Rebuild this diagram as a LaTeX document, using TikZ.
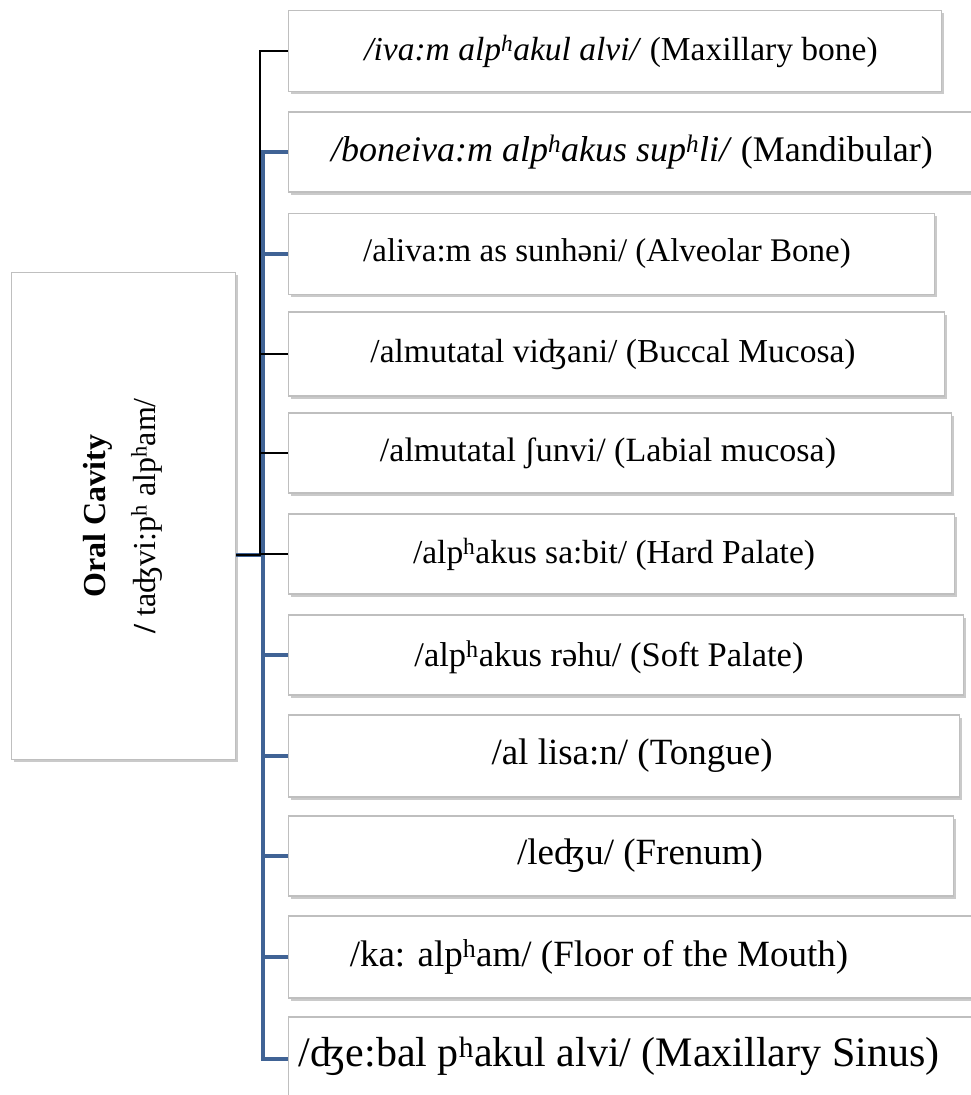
\documentclass[tikz,border=0pt]{standalone}
\usepackage{fontspec}
\setmainfont{Liberation Serif}
\usepackage{tikz}
\usetikzlibrary{shadows}
\definecolor{framegray}{RGB}{191,191,191}
\definecolor{linkblue}{RGB}{64,99,149}
\newcommand{\hsup}{\textsuperscript{h}}
\newcommand{\fs}[1]{\fontsize{#1}{#1}\selectfont}

\begin{document}
\begin{tikzpicture}[x=1pt, y=-1pt]
\tikzstyle{part}=[draw=framegray, line width=1.2pt, fill=white, rectangle, anchor=west,
  minimum height=80pt, inner sep=0pt,
  drop shadow={shadow xshift=2pt, shadow yshift=-2.5pt, opacity=0.35, fill=black!60}]
\tikzstyle{word}=[font=\fs{37}, inner sep=0pt]
\tikzstyle{bluelink}=[draw=linkblue, line width=4pt]
\tikzstyle{blacklink}=[draw=black, line width=2.2pt]
\useasboundingbox (0,0) rectangle (971,1095);

% root
\node[part, anchor=north west, minimum width=224pt, minimum height=487pt] (root) at (11,272) {};
\node[font=\fontsize{32}{36}\selectfont, rotate=90, align=center, inner sep=0pt] (rt) at (123,516)
  {\textbf{Oral Cavity}\\[14pt] \textbf{/} taʤvi:p\hsup{} alp\hsup am/};

% parts
\node[part, minimum width=653pt, minimum height=81pt] (c1) at (288,51) {};
\node[part, minimum width=697pt] (c2) at (288,152) {};
\node[part, minimum width=646pt, minimum height=81pt] (c3) at (288,254) {};
\node[part, minimum width=656pt, minimum height=84pt] (c4) at (288,354) {};
\node[part, minimum width=663pt] (c5) at (288,453) {};
\node[part, minimum width=666pt] (c6) at (288,554) {};
\node[part, minimum width=675pt] (c7) at (288,655) {};
\node[part, minimum width=671pt, minimum height=82pt] (c8) at (288,756) {};
\node[part, minimum width=665pt] (c9) at (288,856) {};
\node[part, minimum width=702pt, minimum height=82pt] (c10) at (288,957) {};
\node[part, minimum width=702pt, minimum height=84pt] (c11) at (288,1059) {};

\node[word, font=\fs{33.5}] (t1) at (621,51) {\textit{/iva:m alp\hsup akul alvi/} (Maxillary bone)};
\node[word, font=\fs{36}] (t2) at (632,152) {\textit{/boneiva:m alp\hsup akus sup\hsup li/} (Mandibular)};
\node[word, font=\fs{33}] (t3) at (607,254) {/aliva:m as sunhəni/ (Alveolar Bone)};
\node[word, font=\fs{33.5}] (t4) at (613,354) {/almutatal viʤani/ (Buccal Mucosa)};
\node[word, font=\fs{34}] (t5) at (608,453) {/almutatal ʃunvi/ (Labial mucosa)};
\node[word, font=\fs{33.5}] (t6) at (614,554) {/alp\hsup akus sa:bit/ (Hard Palate)};
\node[word, font=\fs{34.5}] (t7) at (609,657) {/alp\hsup akus rəhu/ (Soft Palate)};
\node[word] (t8) at (632,756) {/al lisa:n/ (Tongue)};
\node[word] (t9) at (640,856) {/leʤu/ (Frenum)};
\node[word] (t10) at (599,957) {/ka: alp\hsup am/ (Floor of the Mouth)};
\node[word, font=\fs{42}] (t11) at (619,1056) {/ʤe:bal p\hsup akul alvi/ (Maxillary Sinus)};

% links
\coordinate (bbus) at (263,555);
\coordinate (kbus) at (260,555);
\foreach \i in {2,3,7,8,9,10,11}
  \draw[bluelink] (root.east |- bbus) -- (bbus) |- (c\i.west);
\foreach \i in {1,4,5,6}
  \draw[blacklink] (root.east |- kbus) -- (kbus) |- (c\i.west);

\end{tikzpicture}
\end{document}
